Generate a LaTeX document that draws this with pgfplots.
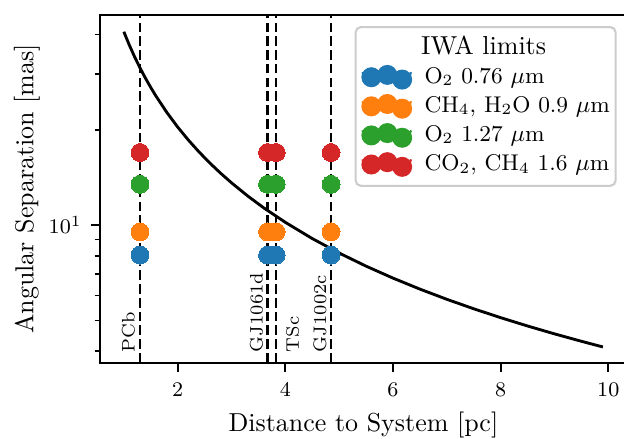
\documentclass[border=0pt]{standalone}
\usepackage{pgfplots}
\pgfplotsset{compat=1.18}
\definecolor{c1}{HTML}{1F77B4}
\definecolor{c2}{HTML}{FF7F0E}
\definecolor{c3}{HTML}{2CA02C}
\definecolor{c4}{HTML}{D62728}
\pgfplotsset{
  iwa/.style={only marks, mark=*, mark size=3.45pt, color=#1,
    mark options={fill=#1, draw=#1, line width=0pt},
    legend image code/.code={
      \useasboundingbox (0pt,0pt) rectangle (18.75pt,0pt);
      \fill[#1] (3.45pt,0.05pt) circle[radius=3.45pt];
      \fill[#1] (9.6pt,0.95pt) circle[radius=3.45pt];
      \fill[#1] (15.3pt,-0.85pt) circle[radius=3.45pt];
    }},
  vline/.style={black, line width=1pt, dash pattern=on 3.7pt off 1.6pt, forget plot},
}
\begin{document}
\begin{tikzpicture}
\begin{axis}[
  scale only axis, width=202.9pt, height=133.8pt,
  xmin=0.555, xmax=10.345, ymode=log, ymin=3.679, ymax=46.06,
  xtick={2,4,6,8,10},
  ytick={10}, minor ytick={4,5,6,7,8,9,20,30,40},
  tick pos=left, tick align=outside,
  major tick length=3.5pt, minor tick length=2pt,
  every major tick/.append style={line width=0.8pt, black},
  every minor tick/.append style={line width=0.6pt, black},
  axis line style={line width=0.8pt},
  tick label style={font=\fontsize{8}{9.6}\selectfont},
  xticklabel style={yshift=-0.8pt},
  label style={font=\fontsize{10}{12}\selectfont},
  xlabel={Distance to System [pc]},
  ylabel={Angular Separation [mas]},
  xlabel style={at={(axis description cs:0.5,-0.1971)}, anchor=base},
  ylabel style={at={(axis description cs:-0.1264,0.5)}, anchor=base},
  legend cell align=left,
  legend style={at={(1,1)}, anchor=north east, xshift=-3.93pt, yshift=-4.24pt,
    draw=black!20, line width=0.8pt, rounded corners=2pt, fill=white,
    inner xsep=2.2pt, inner ysep=3.4pt, row sep=1.7pt, column sep=4.76pt,
    nodes={inner sep=0pt, text height=7pt, text depth=2.5pt, font=\fontsize{8.75}{10.5}\selectfont}},
]
\addlegendimage{empty legend}
\addlegendentry{\fontsize{10}{12}\selectfont\hspace*{-1.3pt}IWA limits}
\addplot[iwa=c1] coordinates {(1.30,8.04) (3.67,8.04) (3.83,8.04) (4.85,8.04)};
\addlegendentry{\makebox[69.5pt][l]{O$_2$ 0.76 $\mu$m}}
\addplot[iwa=c2] coordinates {(1.30,9.52) (3.67,9.52) (3.83,9.52) (4.85,9.52)};
\addlegendentry{CH$_4$, H$_2$O 0.9 $\mu$m}
\addplot[iwa=c3] coordinates {(1.30,13.45) (3.67,13.45) (3.83,13.45) (4.85,13.45)};
\addlegendentry{O$_2$ 1.27 $\mu$m}
\addplot[iwa=c4] coordinates {(1.30,16.95) (3.67,16.95) (3.83,16.95) (4.85,16.95)};
\addlegendentry{CO$_2$, CH$_4$ 1.6 $\mu$m}
\addplot[vline] coordinates {(1.30,3.679) (1.30,46.06)};
\addplot[vline] coordinates {(3.67,3.679) (3.67,46.06)};
\addplot[vline] coordinates {(3.83,3.679) (3.83,46.06)};
\addplot[vline] coordinates {(4.85,3.679) (4.85,46.06)};
\addplot[black, line width=1.1pt, forget plot] coordinates {
(1.0,40.80) (1.1,37.09) (1.2,34.00) (1.3,31.38) (1.4,29.14) (1.5,27.20)
(1.6,25.50) (1.8,22.67) (2.0,20.40) (2.2,18.55) (2.4,17.00) (2.6,15.69)
(2.8,14.57) (3.0,13.60) (3.3,12.36) (3.6,11.33) (4.0,10.20) (4.5,9.067)
(5.0,8.160) (5.5,7.418) (6.0,6.800) (6.5,6.277) (7.0,5.829) (7.5,5.440)
(8.0,5.100) (8.5,4.800) (9.0,4.533) (9.5,4.295) (9.9,4.121)};
\node[rotate=90, anchor=base west, inner sep=0pt, font=\fontsize{7}{8.4}\selectfont] at (axis cs:1.20,3.952) {PCb};
\node[rotate=90, anchor=base west, inner sep=0pt, font=\fontsize{7}{8.4}\selectfont] at (axis cs:3.58,3.952) {GJ1061d};
\node[rotate=90, anchor=base west, inner sep=0pt, font=\fontsize{7}{8.4}\selectfont] at (axis cs:4.25,3.952) {TSc};
\node[rotate=90, anchor=base west, inner sep=0pt, font=\fontsize{7}{8.4}\selectfont] at (axis cs:4.76,3.952) {GJ1002c};
\coordinate (sw) at (rel axis cs:0,0);
\end{axis}
\pgfresetboundingbox
\useasboundingbox ([shift={(-38.46pt,-29.07pt)}]sw) rectangle ([shift={(201.8pt,139.6pt)}]sw);
\end{tikzpicture}
\end{document}
